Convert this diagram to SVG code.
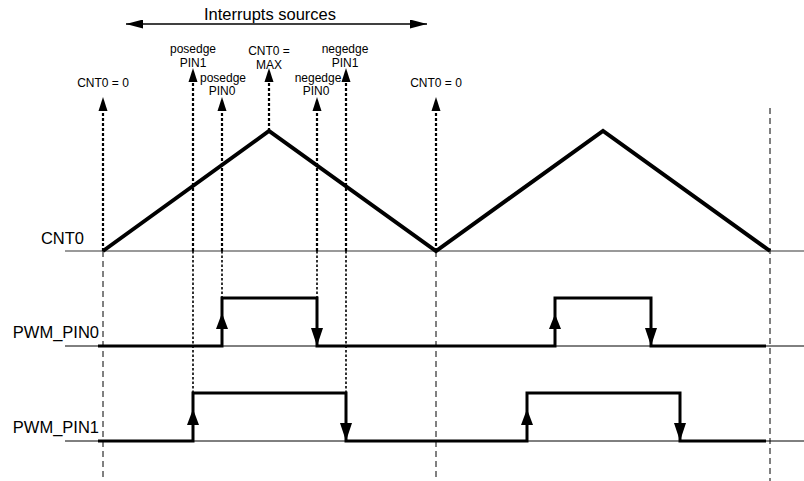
<svg xmlns="http://www.w3.org/2000/svg" width="804" height="481" viewBox="0 0 804 481">
<style>
text{font-family:"Liberation Sans",Arial,sans-serif;fill:#000}
.lbl{font-size:16.5px}
.sm{font-size:12px;text-anchor:middle}
.base{stroke:#000;stroke-width:1;fill:none}
.cbase{stroke:#777;stroke-width:1.5;fill:none}
.dash{stroke:#000;stroke-width:1;stroke-dasharray:6 4;fill:none}
.dot{stroke:#000;stroke-width:2.2;stroke-dasharray:3 2;fill:none}
.dotthin{stroke:#000;stroke-width:1.6;stroke-dasharray:2.5 2;fill:none}
.sig{stroke:#000;stroke-width:3;fill:none;stroke-linejoin:miter}
.tri{stroke:#000;stroke-width:4;fill:none;stroke-linejoin:miter}
.ah{fill:#000}
</style>
<defs>
<marker id="up" markerUnits="userSpaceOnUse" markerWidth="14" markerHeight="10" refX="0" refY="4.5" orient="auto" viewBox="0 0 14 9">
<path d="M0,0 L14,4.5 L0,9 z" fill="#000"/>
</marker>
<marker id="ar" markerUnits="userSpaceOnUse" markerWidth="17" markerHeight="9" refX="17" refY="4.5" orient="auto-start-reverse" viewBox="0 0 17 9">
<path d="M0,0 L17,4.5 L0,9 z" fill="#000"/>
</marker>
</defs>

<g id="title">
<line x1="126" y1="24" x2="427" y2="24" stroke="#000" stroke-width="1.5" marker-start="url(#ar)" marker-end="url(#ar)"/>
<text x="270" y="20" font-size="16.5" text-anchor="middle">Interrupts sources</text>
</g>

<g id="axes">
<line class="cbase" x1="65" y1="251" x2="804" y2="251"/>
<line class="base" x1="65" y1="346" x2="804" y2="346"/>
<line class="base" x1="65" y1="441" x2="804" y2="441"/>
<text class="lbl" x="84" y="244" text-anchor="end">CNT0</text>
<text class="lbl" x="99" y="338" text-anchor="end">PWM_PIN0</text>
<text class="lbl" x="99" y="433" text-anchor="end">PWM_PIN1</text>
</g>

<g id="connectors">
<line class="dash" x1="103" y1="251" x2="103" y2="481"/>
<line class="dash" x1="436" y1="251" x2="436" y2="481"/>
<line class="dash" x1="770" y1="108" x2="770" y2="481"/>
<line class="dot" x1="103" y1="251" x2="103" y2="111" marker-end="url(#up)"/>
<line class="dot" x1="436" y1="251" x2="436" y2="111" marker-end="url(#up)"/>
<line class="dot" x1="269" y1="131" x2="269" y2="82" marker-end="url(#up)"/>
<line class="dot" x1="193" y1="251" x2="193" y2="82" marker-end="url(#up)"/>
<line class="dotthin" x1="193" y1="251" x2="193" y2="393"/>
<line class="dot" x1="222" y1="251" x2="222" y2="111" marker-end="url(#up)"/>
<line class="dotthin" x1="222" y1="251" x2="222" y2="298"/>
<line class="dot" x1="317" y1="251" x2="317" y2="111" marker-end="url(#up)"/>
<line class="dotthin" x1="317" y1="251" x2="317" y2="298"/>
<line class="dot" x1="346" y1="251" x2="346" y2="82" marker-end="url(#up)"/>
<line class="dotthin" x1="346" y1="251" x2="346" y2="393"/>
</g>

<g id="labels">
<text class="sm" x="103" y="87">CNT0 = 0</text>
<text class="sm" x="436" y="87">CNT0 = 0</text>
<text class="sm" x="193" y="53">posedge</text>
<text class="sm" x="193" y="67">PIN1</text>
<text class="sm" x="223" y="82">posedge</text>
<text class="sm" x="222" y="95">PIN0</text>
<text class="sm" x="269" y="55">CNT0 =</text>
<text class="sm" x="269" y="69">MAX</text>
<text class="sm" x="345" y="53">negedge</text>
<text class="sm" x="345" y="67">PIN1</text>
<text class="sm" x="318" y="82">negedge</text>
<text class="sm" x="316" y="95">PIN0</text>
</g>

<g id="cnt0">
<polyline class="tri" points="103,251 269,131 436,251 603,131 770,251"/>
</g>

<g id="pwm_pin0">
<polyline class="sig" points="98,346 222,346 222,298 317,298 317,346 555,346 555,298 651,298 651,346 766,346"/>
<polygon class="ah" points="222,313 216,329 228,329"/>
<polygon class="ah" points="317,346 311,328 323,328"/>
<polygon class="ah" points="555,314 549,329 561,329"/>
<polygon class="ah" points="651,346 645,328 657,328"/>
</g>

<g id="pwm_pin1">
<polyline class="sig" points="98,441 193,441 193,393 346,393 346,441 527,441 527,393 680,393 680,441 766,441"/>
<polygon class="ah" points="193,409 187,425 199,425"/>
<polygon class="ah" points="346,441 340,423 352,423"/>
<polygon class="ah" points="527,409 521,425 533,425"/>
<polygon class="ah" points="680,441 674,423 686,423"/>
</g>
</svg>
